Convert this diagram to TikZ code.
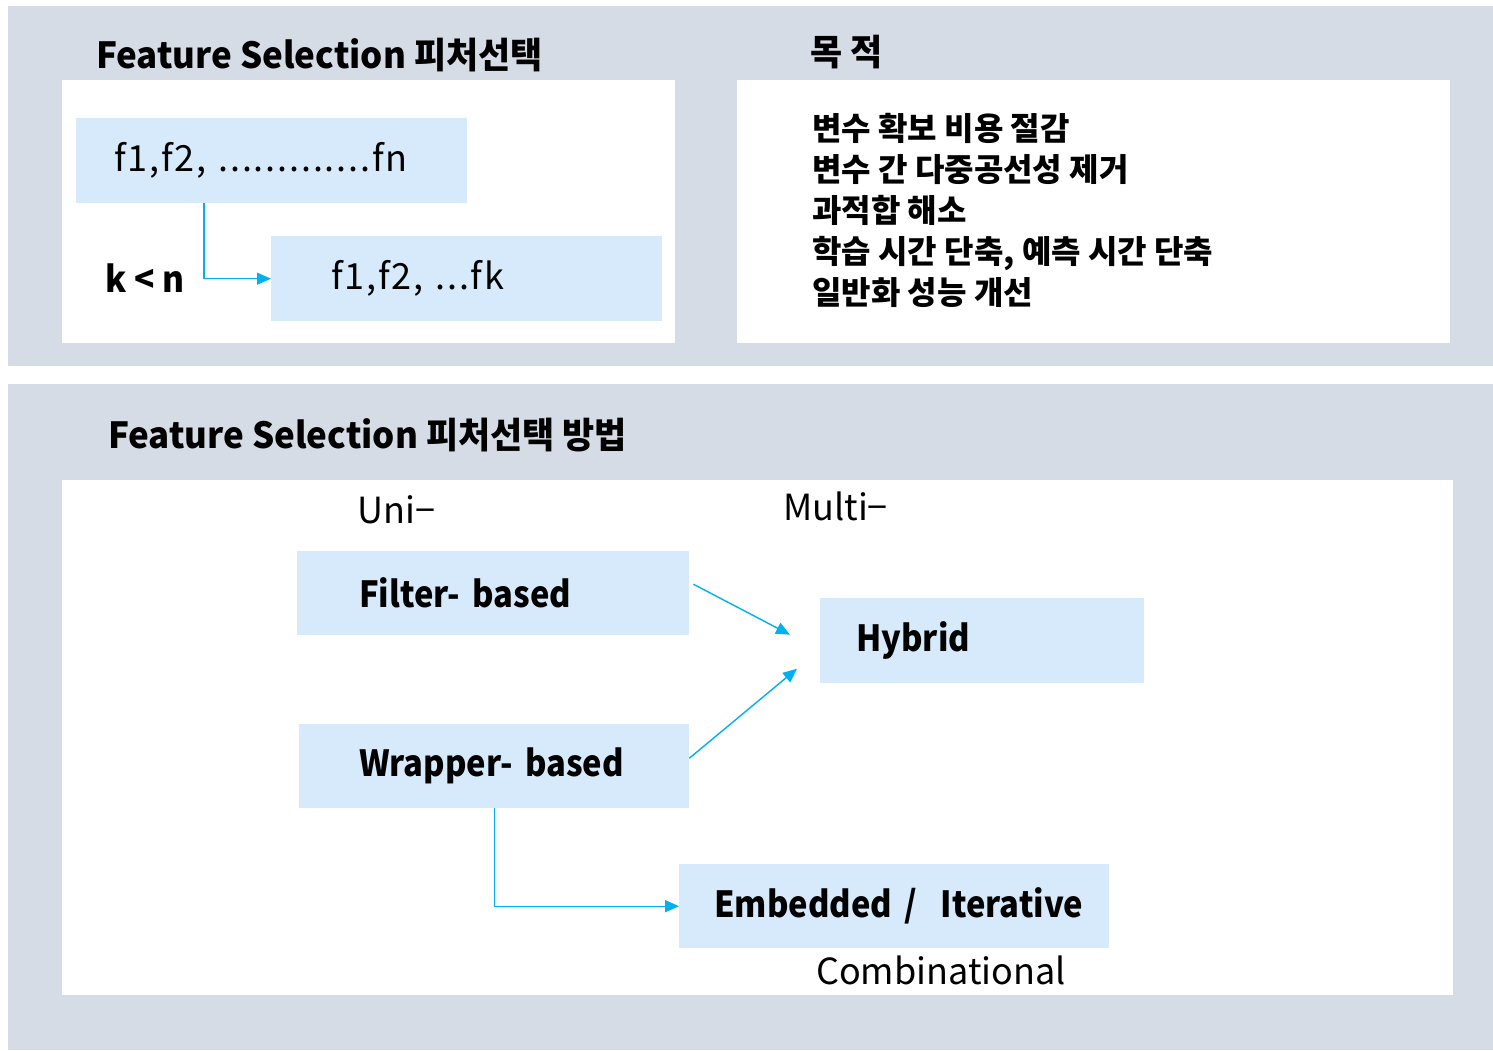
\documentclass[tikz,border=0pt]{standalone}
\usepackage{fontspec}
\setmainfont{Noto Sans CJK KR}
\usetikzlibrary{arrows.meta}

\definecolor{panelgray}{HTML}{D6DCE5}
\definecolor{boxblue}{HTML}{D6EAFB}
\definecolor{linkcyan}{HTML}{00B0F0}

\tikzset{
  panel/.style={fill=panelgray},
  sheet/.style={fill=white},
  fbox/.style={fill=boxblue, anchor=north west, inner xsep=0pt, inner ysep=0pt, align=left},
  heading/.style={anchor=west, inner sep=0pt,
    font=\bfseries\fontsize{36}{40}\selectfont\addfontfeature{FakeStretch=0.97}},
  boxbold/.style={font=\bfseries\fontsize{36}{40}\selectfont\addfontfeature{FakeStretch=0.91}},
  boxplain/.style={font=\fontsize{36}{40}\selectfont\addfontfeature{LetterSpace=5}},
  plaintext/.style={anchor=west, inner sep=0pt, font=\fontsize{36}{40}\selectfont},
  link/.style={draw=linkcyan, line width=1.4pt, -{Triangle[length=14pt,width=12pt]}},
}

\begin{document}
\begin{tikzpicture}[x=1pt,y=-1pt]
\useasboundingbox (0,0) rectangle (1493,1050);
\fill[white] (0,0) rectangle (1493,1050);

% upper panel
\fill[panel] (8,6) rectangle (1493,366);
\fill[sheet] (62,80) rectangle (675,343);
\fill[sheet] (737,80) rectangle (1450,343);

% lower panel
\fill[panel] (8,384) rectangle (1493,1050);
\fill[sheet] (62,480) rectangle (1453,995);

% headings
\node[heading] (head1) at (96,55) {Feature Selection 피처선택};
\node[heading] (head2) at (810,52) {목 적};
\node[heading] (head3) at (108,435) {Feature Selection 피처선택 방법};

% feature subset
\node[fbox, boxplain, text width=391pt, minimum height=85pt] (allf) at (76,118) {\mbox{\hspace*{38pt}f1,f2, .............fn}};
\node[fbox, boxplain, text width=391pt, minimum height=85pt] (subf) at (271,236) {\mbox{\hspace*{60pt}f1,f2, ...fk}};
\node[anchor=west, inner sep=0pt, font=\bfseries\fontsize{36}{40}\selectfont\addfontfeature{FakeStretch=0.93}] (kn) at (105,278) {k < n};
\draw[link] ([xshift=128pt]allf.south west) |- (subf.west);

% goals
\node[anchor=north west, inner sep=0pt, align=left,
      font=\bfseries\fontsize{32}{41}\selectfont] (goals) at (812,113)
  {변수 확보 비용 절감\\
   변수 간 다중공선성 제거\\
   과적합 해소\\
   학습 시간 단축, 예측 시간 단축\\
   일반화 성능 개선};

% methods
\node[plaintext] (uni) at (357,510) {Uni−};
\node[plaintext] (multi) at (783,506) {Multi−};

\node[fbox, boxbold, text width=392pt, minimum height=84pt] (filter) at (297,551) {\mbox{\hspace*{62pt}Filter- based}};
\node[fbox, boxbold, text width=390pt, minimum height=84pt] (wrapper) at (299,724) {\mbox{\hspace*{60pt}Wrapper- based}};
\node[fbox, boxbold, text width=324pt, minimum height=85pt] (hybrid) at (820,598) {\mbox{\hspace*{36pt}Hybrid}};
\node[fbox, boxbold, text width=430pt, minimum height=84pt] (embedded) at (679,864) {\mbox{\hspace*{35pt}Embedded /\ \ Iterative}};
\node[plaintext] (comb) at (816,970) {Combinational};

\draw[link] ([shift={(4pt,9pt)}]filter.east) -- ([shift={(-30pt,6pt)}]hybrid.west);
\draw[link] ([shift={(0pt,8pt)}]wrapper.east) -- ([shift={(-23pt,-28pt)}]hybrid.west);
\draw[link] (wrapper.south) |- (embedded.west);
\end{tikzpicture}
\end{document}
